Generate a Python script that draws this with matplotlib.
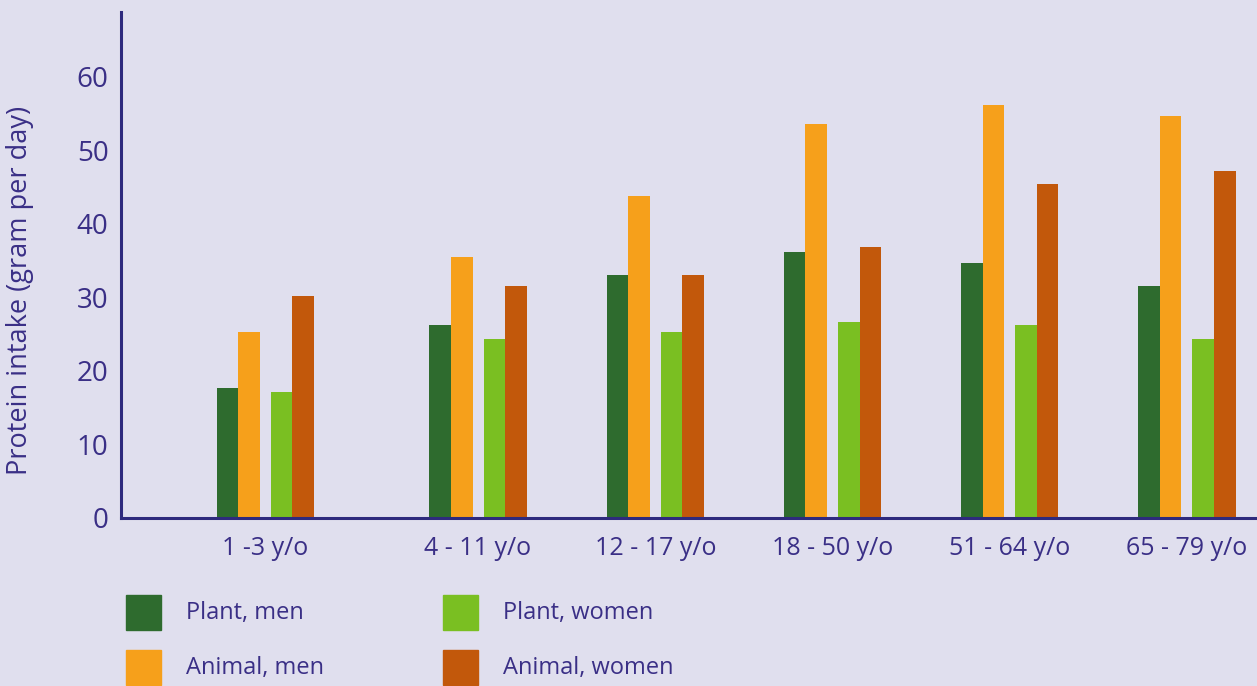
import matplotlib.pyplot as plt
from matplotlib.patches import Rectangle
import numpy as np

plt.rcParams['font.family'] = ['Open Sans', 'DejaVu Sans']

age_groups = ["1 -3 y/o", "4 - 11 y/o", "12 - 17 y/o", "18 - 50 y/o", "51 - 64 y/o", "65 - 79 y/o"]
plant_men = [17.7, 26.3, 33.1, 36.2, 34.7, 31.5]
animal_men = [25.3, 35.5, 43.8, 53.6, 56.1, 54.6]
plant_women = [17.1, 24.4, 25.3, 26.7, 26.3, 24.4]
animal_women = [30.2, 31.5, 33.1, 36.9, 45.4, 47.2]

colors = {"Plant, men": "#2e6b2e", "Animal, men": "#f6a01b",
          "Plant, women": "#7abf22", "Animal, women": "#c2580b"}

bg = "#e0dfee"
navy = "#2e2a7d"
text_c = "#3a2f86"

# first group sits a bit further left than the rest
pos = np.array([0, 1.2, 2.2, 3.2, 4.2, 5.2])
w = 0.1215
gap = 0.062

fig = plt.figure(figsize=(12.57, 6.86), dpi=100)
fig.patch.set_facecolor(bg)
ax = fig.add_axes([0.0963, 0.2449, 0.9037, 0.7376])
ax.set_facecolor(bg)

offsets = [-1.5 * w - gap / 2, -0.5 * w - gap / 2, 0.5 * w + gap / 2, 1.5 * w + gap / 2]
for vals, lab, off in zip([plant_men, animal_men, plant_women, animal_women],
                          ["Plant, men", "Animal, men", "Plant, women", "Animal, women"], offsets):
    ax.bar(pos + off, vals, width=w, color=colors[lab], edgecolor="none", zorder=2)

ax.set_xlim(-0.814, 5.595)
ax.set_ylim(0, 68.8)
ax.set_yticks([0, 10, 20, 30, 40, 50, 60])
ax.set_xticks(pos)
ax.set_xticklabels(age_groups)
ax.tick_params(axis="y", length=0, pad=9, labelsize=20, labelcolor=text_c)
ax.tick_params(axis="x", length=0, pad=13, labelsize=18, labelcolor=text_c)
for s in ["top", "right"]:
    ax.spines[s].set_visible(False)
for s in ["left", "bottom"]:
    ax.spines[s].set_color(navy)
    ax.spines[s].set_linewidth(2.2)
    ax.spines[s].set_zorder(3)

ax.set_ylabel("Protein intake (gram per day)", fontsize=19.5, color=text_c)
ax.yaxis.set_label_coords(-0.077, 0.449)

# legend drawn by hand in figure pixels
W, H = 1257, 686
legend_items = [("Plant, men", 126, 595), ("Plant, women", 443, 595),
                ("Animal, men", 126, 650), ("Animal, women", 443, 650)]
for lab, x0, y0 in legend_items:
    fig.patches.append(Rectangle((x0 / W, 1 - (y0 + 35) / H), 35 / W, 35 / H,
                                 transform=fig.transFigure, color=colors[lab]))
    fig.text((x0 + 60) / W, 1 - (y0 + 18) / H, lab, fontsize=17, color=text_c, va="center")

fig.savefig("out.png", dpi=100, facecolor=bg)
